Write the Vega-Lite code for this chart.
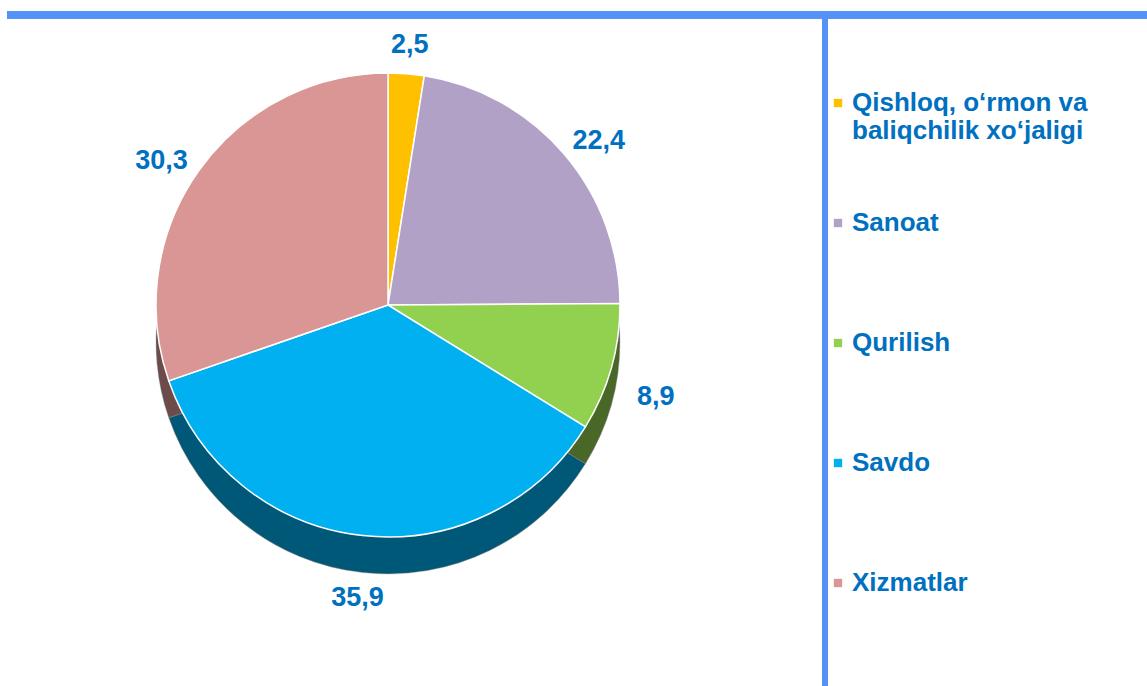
{
  "$schema": "https://vega.github.io/schema/vega-lite/v6.json",
  "width": 1147,
  "height": 686,
  "autosize": {"type": "fit", "contains": "padding"},
  "padding": 0,
  "background": "white",
  "config": {
    "view": {"stroke": null},
    "locale": {"number": {"decimal": ",", "thousands": " ", "grouping": [3], "currency": ["", ""]}},
    "font": "Liberation Sans"
  },
  "data": {
    "values": [
      {"sector": "Qishloq, o‘rmon va baliqchilik xo‘jaligi", "value": 2.5, "order": 1},
      {"sector": "Sanoat", "value": 22.4, "order": 2},
      {"sector": "Qurilish", "value": 8.9, "order": 3},
      {"sector": "Savdo", "value": 35.9, "order": 4},
      {"sector": "Xizmatlar", "value": 30.3, "order": 5}
    ]
  },
  "layer": [
    {
      "mark": {"type": "arc", "x": 388, "y": 342, "outerRadius": 232, "stroke": "#d9d9d9", "strokeWidth": 1},
      "encoding": {
        "theta": {"field": "value", "type": "quantitative", "stack": true},
        "order": {"field": "order", "type": "quantitative"},
        "color": {"field": "sector", "type": "nominal", "sort": {"field": "order"}}
      }
    },
    {
      "mark": {"type": "arc", "x": 388, "y": 342, "outerRadius": 232, "fill": "#000000", "fillOpacity": 0.5},
      "encoding": {
        "theta": {"field": "value", "type": "quantitative", "stack": true},
        "order": {"field": "order", "type": "quantitative"}
      }
    },
    {
      "mark": {"type": "arc", "x": 388, "y": 305, "outerRadius": 232, "stroke": "#ffffff", "strokeWidth": 1.5},
      "encoding": {
        "theta": {"field": "value", "type": "quantitative", "stack": true},
        "order": {"field": "order", "type": "quantitative"},
        "color": {
          "field": "sector",
          "type": "nominal",
          "sort": {"field": "order"},
          "scale": {
            "domain": ["Qishloq, o‘rmon va baliqchilik xo‘jaligi", "Sanoat", "Qurilish", "Savdo", "Xizmatlar"],
            "range": ["#FFC000", "#B2A1C7", "#92D050", "#00B0F0", "#D99694"]
          },
          "legend": {
            "orient": "none",
            "legendX": 825,
            "legendY": 90,
            "title": null,
            "symbolType": "square",
            "symbolSize": 70,
            "symbolStrokeWidth": 0,
            "labelFont": "Liberation Sans",
            "labelFontSize": 26,
            "labelFontWeight": "bold",
            "labelColor": "#0070C0",
            "labelLimit": 400,
            "labelOffset": 1,
            "gridAlign": "all",
            "rowPadding": 66,
            "labelExpr": "datum.label == 'Qishloq, o‘rmon va baliqchilik xo‘jaligi' ? ['Qishloq, o‘rmon va', 'baliqchilik xo‘jaligi'] : datum.label"
          }
        }
      }
    },
    {
      "mark": {"type": "text", "x": 388, "y": 322, "radius": 278, "font": "Liberation Sans", "fontSize": 27, "fontWeight": "bold", "fill": "#0070C0"},
      "encoding": {
        "theta": {"field": "value", "type": "quantitative", "stack": true},
        "order": {"field": "order", "type": "quantitative"},
        "text": {"field": "value", "type": "quantitative", "format": ".1f"}
      }
    },
    {
      "mark": {"type": "rule", "stroke": "#5592F7", "strokeWidth": 7},
      "encoding": {
        "x": {"value": 7},
        "x2": {"value": 1147},
        "y": {"value": 15},
        "y2": {"value": 15}
      }
    },
    {
      "mark": {"type": "rule", "stroke": "#5592F7", "strokeWidth": 6},
      "encoding": {
        "x": {"value": 825},
        "x2": {"value": 825},
        "y": {"value": 12},
        "y2": {"value": 686}
      }
    }
  ]
}
